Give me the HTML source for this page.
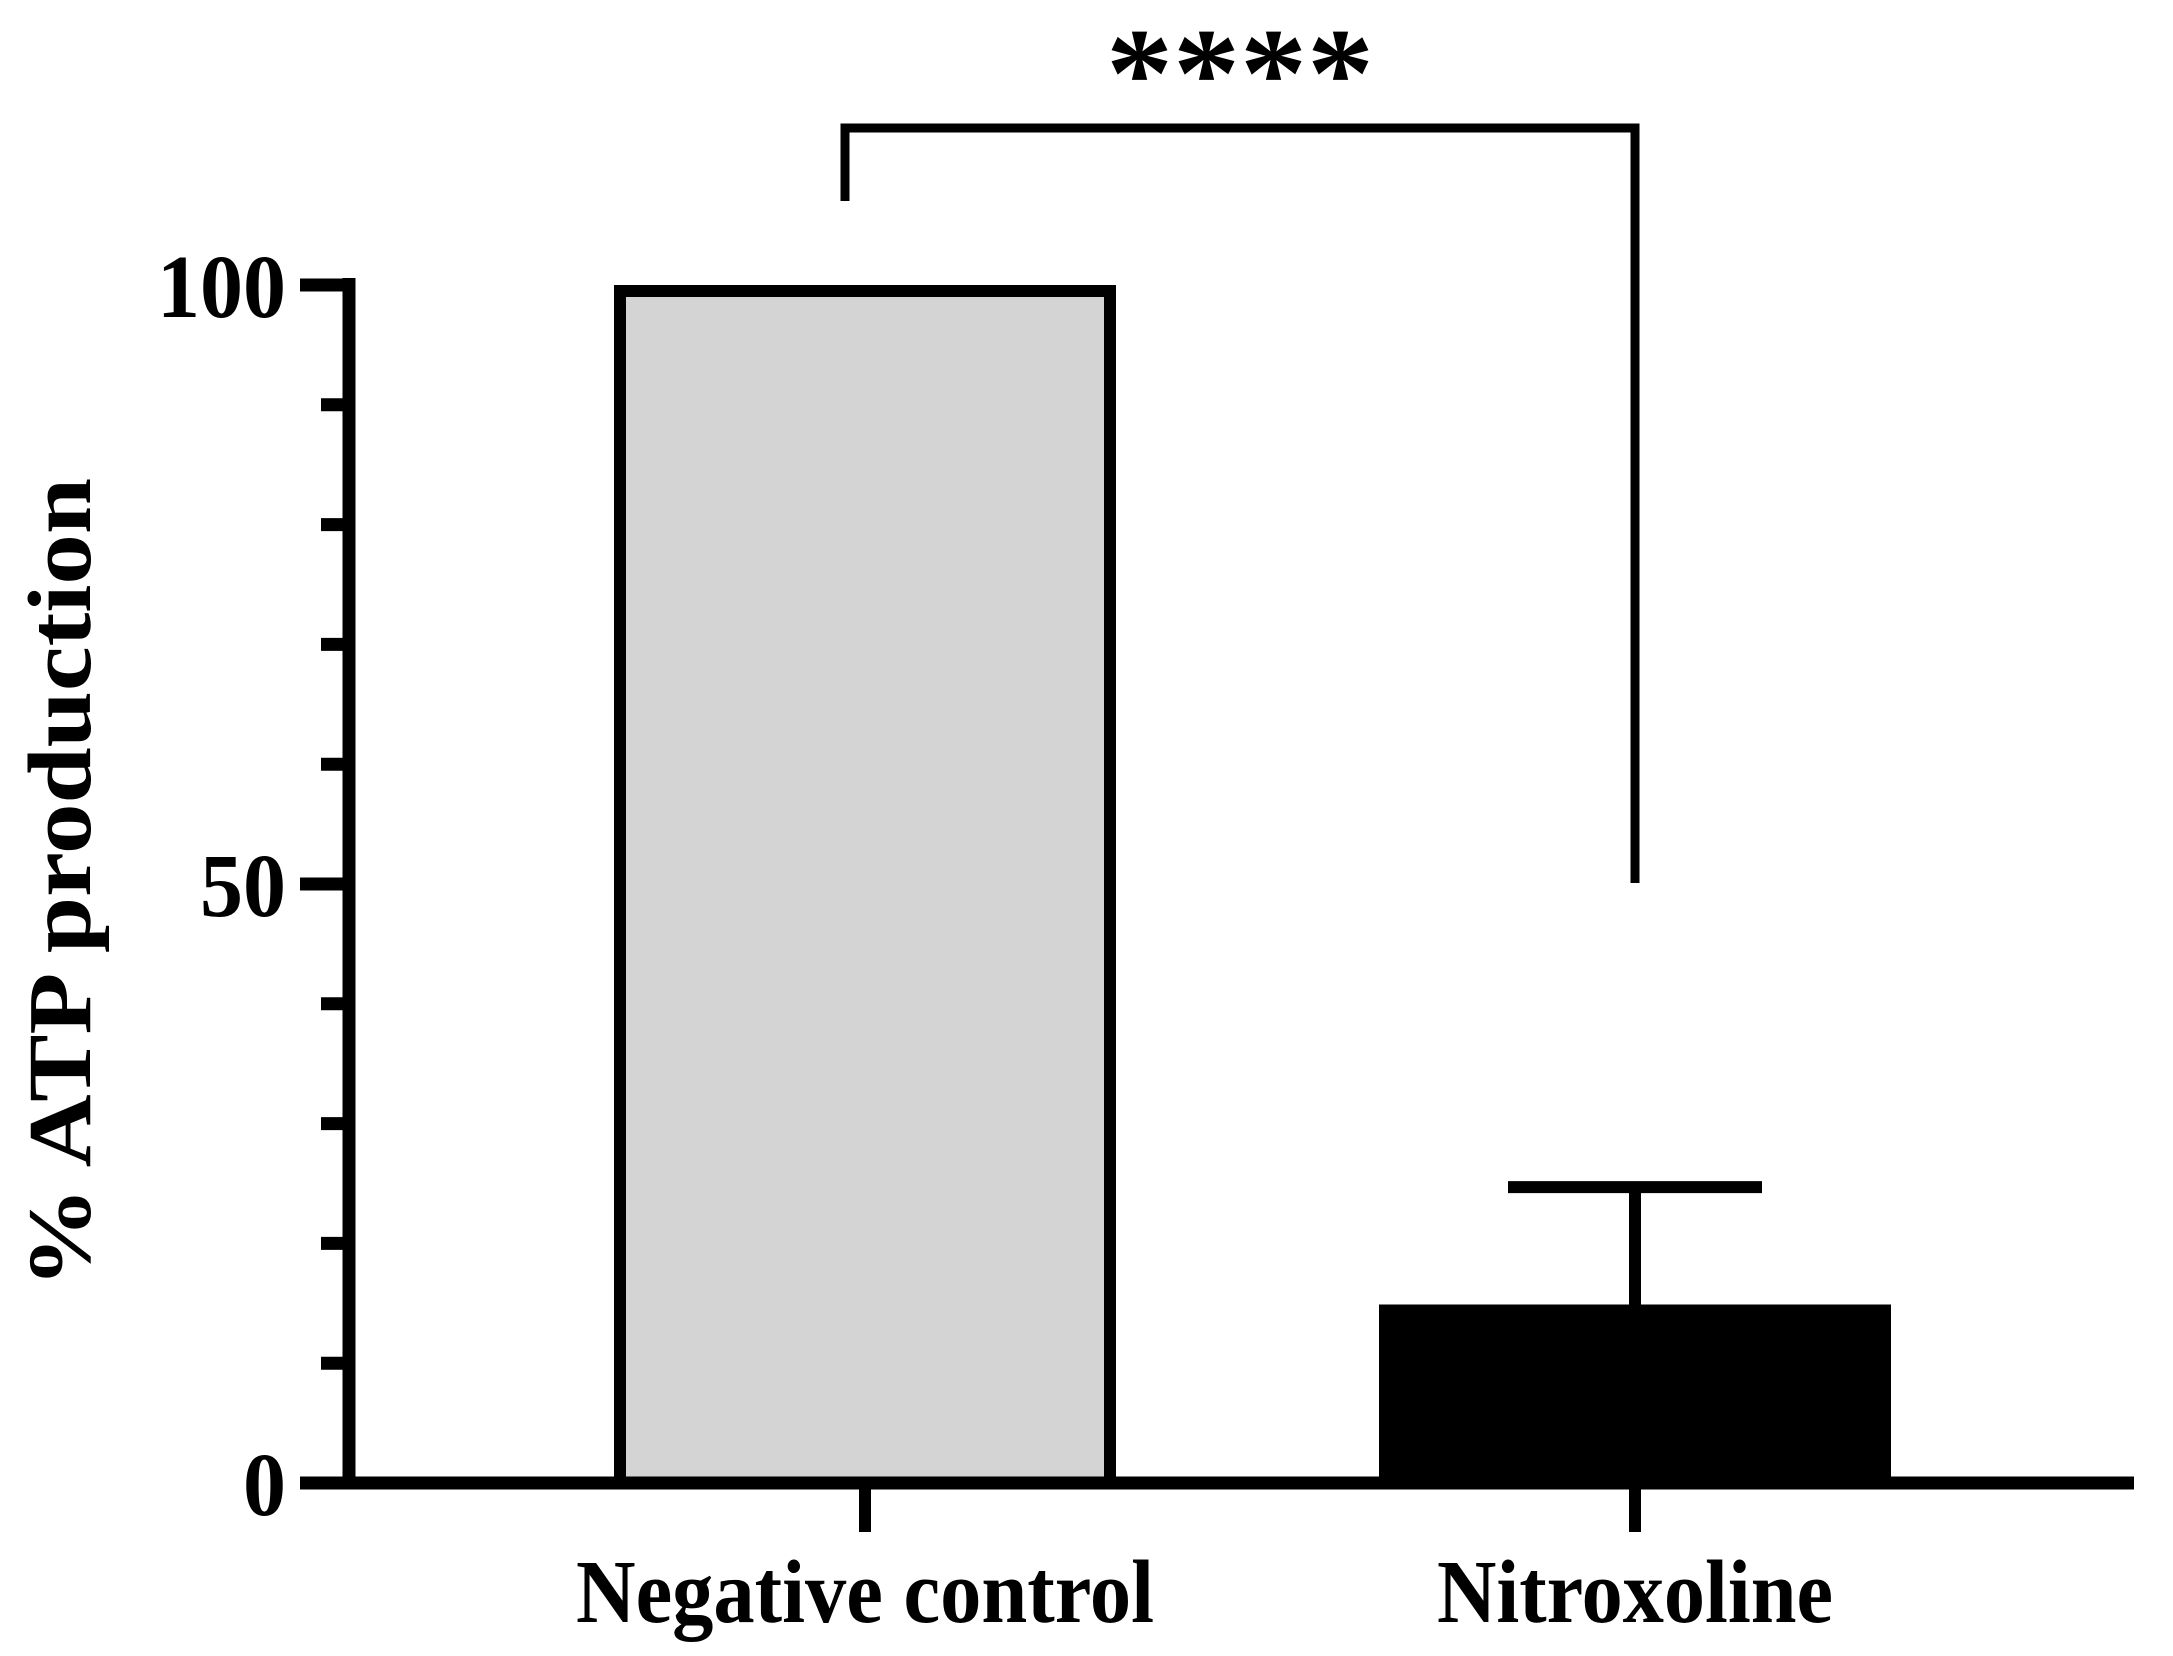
<!DOCTYPE html>
<html><head><meta charset="utf-8"><style>
html,body{margin:0;padding:0;background:#fff;}
svg{display:block;}
text{font-family:"Liberation Serif",serif;font-weight:bold;fill:#000;}
</style></head><body>
<svg id="chart" width="2173" height="1656" viewBox="0 0 2173 1656" xmlns="http://www.w3.org/2000/svg">
<g id="plot"></g>
</svg>
<script>
const categories = ["Negative control", "Nitroxoline"];
const means = [100, 14.9];
const errors = [0, 9.8];
const fills = ["#d4d4d4", "#000000"];
const yTicks = [0, 50, 100];
const yMinor = [10,20,30,40,60,70,80,90];
const sigLabel = "****";

const NS = "http://www.w3.org/2000/svg";
const g = document.getElementById('plot');
const y0 = 1483, y100 = 285, axisX = 349, xEnd = 2134;
function y(v){ return y0 + (y100 - y0) * v / 100; }
const centers = [865, 1635];
const halfW = [251, 256];
const labelLens = [578, 396];
function mk(tag, attrs, parent){ const e=document.createElementNS(NS,tag); for(const k in attrs) e.setAttribute(k,attrs[k]); (parent||g).appendChild(e); return e; }

categories.forEach((c,i)=>{
  const top = y(means[i]);
  const r = mk('rect',{x:centers[i]-halfW[i]+6,y:top+6,width:2*halfW[i]-12,height:y0-top-6,fill:fills[i],stroke:'#000','stroke-width':12});
  
  
  if(errors[i]>0){
    const e = mk('path',{d:`M${centers[i]},${top} V${y(means[i]+errors[i])} M${centers[i]-127},${y(means[i]+errors[i])} H${centers[i]+127}`,stroke:'#000','stroke-width':12,fill:'none'});
    
    
  }
  const t = mk('path',{d:`M${centers[i]},${y0} V1532`,stroke:'#000','stroke-width':12});
  
  
  const l = mk('text',{x:centers[i]-labelLens[i]/2,y:1622,'font-size':90,textLength:labelLens[i],lengthAdjust:'spacingAndGlyphs'});
  l.textContent = c;
  
  
});

const ax = mk('path',{d:`M${axisX},${y(100)-7} V${y0} H${xEnd}`,stroke:'#000','stroke-width':13,fill:'none'});


yTicks.forEach(v=>{
  const t = mk('path',{d:`M300,${y(v)} H${axisX}`,stroke:'#000','stroke-width':13});
  
  
  const w = String(v).length * 43;
  const l = mk('text',{x:286-w,y:y(v)+32,'font-size':90,textLength:w,lengthAdjust:'spacingAndGlyphs'});
  l.textContent = v;
  
  
});
yMinor.forEach(v=>{
  const t = mk('path',{d:`M321,${y(v)} H${axisX}`,stroke:'#000','stroke-width':13});
  
  
});
const yt = mk('text',{x:-405,y:0,'font-size':90,textLength:810,lengthAdjust:'spacingAndGlyphs',transform:'translate(90,883) rotate(-90)'});
yt.textContent = '% ATP production';



const br = mk('path',{d:`M845,201 V128 H1635 V883`,stroke:'#000','stroke-width':9,fill:'none'});


const st = mk('text',{x:1106,y:116,'font-size':128,textLength:268,lengthAdjust:'spacingAndGlyphs','font-family':'Liberation Sans'});
st.textContent = sigLabel;


</script>
</body></html>
